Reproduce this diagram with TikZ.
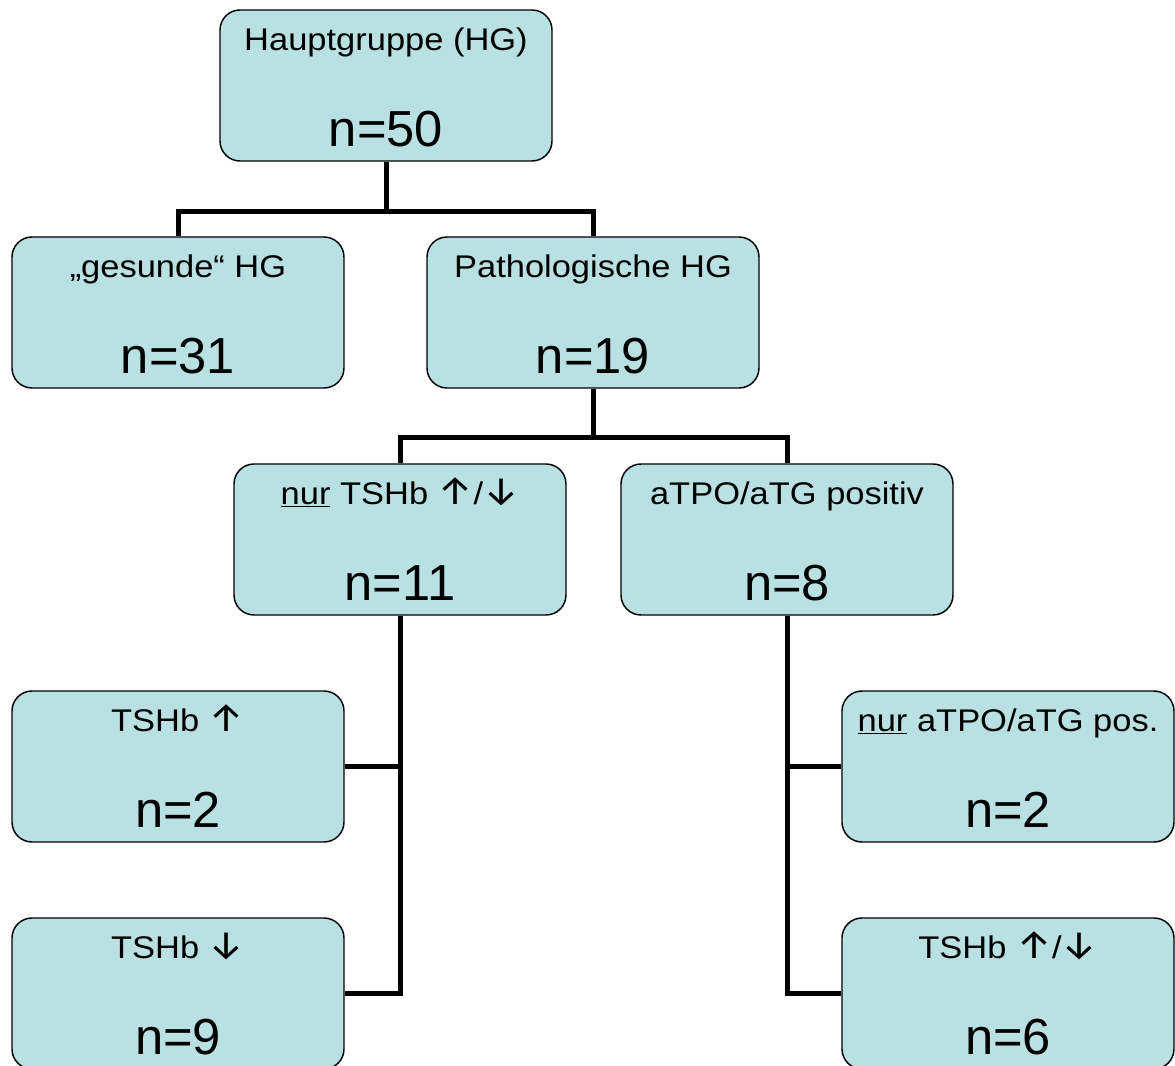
\documentclass[tikz,border=0pt]{standalone}
\usepackage{fontspec}
\setmainfont{Liberation Sans}
\newfontfamily\smallfont{Liberation Sans}[FakeStretch=1.1]
\newfontfamily\arrfont{Fira Sans}
\newcommand\arrup{{\arrfont\fontsize{30}{30}\selectfont ↑}}
\newcommand\arrdn{{\arrfont\fontsize{30}{30}\selectfont ↓}}
\definecolor{boxfill}{RGB}{185,224,227}
\begin{document}
\begin{tikzpicture}[x=0.75pt,y=-0.75pt,
  box/.style={draw=black,line width=1.1pt,fill=boxfill,rounded corners=15pt,
    minimum width=249pt,minimum height=113.25pt,inner sep=0pt},
  ttl/.style={anchor=base,inner sep=0pt,font=\smallfont\fontsize{23.5}{28}\selectfont},
  num/.style={anchor=base,inner sep=0pt,font=\fontsize{38}{45}\selectfont},
  conn/.style={line width=3.75pt}]
\useasboundingbox (0,0) rectangle (1175,1066);
\clip (0,0) rectangle (1175,1066);
% boxes
\node[box] (hg)  at (386,85.5) {};
\node[box] (ges) at (178,312.5) {};
\node[box] (pat) at (593,312.5) {};
\node[box] (nur) at (400,539.5) {};
\node[box] (atp) at (787,539.5) {};
\node[box] (up)  at (178,766.5) {};
\node[box] (dn)  at (178,993.5) {};
\node[box] (nap) at (1008,766.5) {};
\node[box] (tud) at (1008,993.5) {};
% connectors
\draw[conn] (hg.south) -- ++(0,50) coordinate (hgm) -| (ges.north);
\draw[conn] (hgm) -| (pat.north);
\draw[conn] (pat.south) -- ++(0,49) coordinate (patm) -| (nur.north);
\draw[conn] (patm) -| (atp.north);
\draw[conn] (nur.south) |- (up.east);
\draw[conn] (nur.south) |- (dn.east);
\draw[conn] (atp.south) |- (nap.west);
\draw[conn] (atp.south) |- (tud.west);
% texts
\foreach \b/\t/\n in {hg/{Hauptgruppe (HG)}/{n=50},
  ges/{„gesunde“ HG}/{n=31},
  pat/{Pathologische HG}/{n=19},
  nur/{\underline{nur} TSHb \arrup/\arrdn}/{n=11},
  atp/{aTPO/aTG positiv}/{n=8},
  up/{TSHb \arrup}/{n=2},
  dn/{TSHb \arrdn}/{n=9},
  nap/{\underline{nur} aTPO/aTG pos.}/{n=2},
  tud/{TSHb \arrup/\arrdn}/{n=6}}{
  \node[ttl] (\b-t) at ([yshift=-30.75pt]\b.north) {\t};
  \node[num] (\b-n) at ([yshift=-102.75pt]\b.north) {\n};
}
\end{tikzpicture}
\end{document}
